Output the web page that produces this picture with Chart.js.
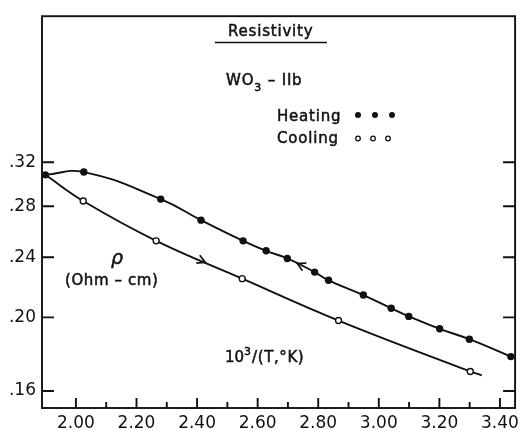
<!DOCTYPE html>
<html>
<head>
<meta charset="utf-8">
<script src="https://cdn.jsdelivr.net/npm/chart.js@4.4.1/dist/chart.umd.min.js"></script>
<style>
  html, body { margin: 0; padding: 0; background: #fff; }
  canvas { display: block; }
</style>
</head>
<body>
<canvas id="rho" width="524" height="430"></canvas>
<script>
// WO3 - IIb resistivity vs 10^3/T, heating and cooling runs
const heatX = [1.899, 2.026, 2.280, 2.413, 2.552, 2.628, 2.698, 2.788, 2.834, 2.949, 3.041, 3.099, 3.201, 3.299, 3.436];
const heatY = [0.308, 0.3106, 0.2862, 0.2685, 0.2522, 0.2447, 0.2391, 0.2294, 0.2238, 0.2140, 0.2056, 0.2006, 0.1932, 0.1872, 0.1776];

const coolX = [1.899, 2.024, 2.265, 2.549, 2.867, 3.302, 3.340];
const coolY = [0.308, 0.2845, 0.2522, 0.2249, 0.1981, 0.1698, 0.1678];
// first point is shared with heating, last is just where the trace stops
const coolMarked = [false, true, true, true, true, true, false];

const xMajorTicks = [2.0, 2.2, 2.4, 2.6, 2.8, 3.0, 3.2, 3.4];
const xMinorTicks = [2.1, 2.3, 2.5, 2.7, 2.9, 3.1, 3.3];
const yTicks = [0.16, 0.20, 0.24, 0.28, 0.32];

// direction arrows on the curves
const coolArrowX = 2.427;
const heatArrowX = 2.731;

const INK = '#111';
const FONT = '"DejaVu Sans", "Liberation Sans", sans-serif';

function pts(xs, ys){ return xs.map((x,i)=>({x:x, y:ys[i]})); }

// lettering: slightly spaced and with a thin outline for weight
function text(ctx, s, x, y, size, opts){
  opts = opts || {};
  ctx.font = (opts.style||'') + ' ' + size + 'px ' + FONT;
  if('letterSpacing' in ctx) ctx.letterSpacing = (opts.ls!=null?opts.ls:0.8) + 'px';
  ctx.fillText(s, x, y);
  ctx.lineWidth = 0.5;
  ctx.strokeText(s, x, y);
  const w = ctx.measureText(s).width;
  if('letterSpacing' in ctx) ctx.letterSpacing = '0px';
  return w;
}

function arrowHead(ctx, x, y, dx, dy){
  const len = Math.hypot(dx,dy); const ux = dx/len, uy = dy/len;
  const s = 9, a = 0.5;
  ctx.beginPath();
  ctx.moveTo(x - s*(ux*Math.cos(a) - uy*Math.sin(a)), y - s*(uy*Math.cos(a) + ux*Math.sin(a)));
  ctx.lineTo(x, y);
  ctx.lineTo(x - s*(ux*Math.cos(a) + uy*Math.sin(a)), y - s*(uy*Math.cos(a) - ux*Math.sin(a)));
  ctx.stroke();
}

// pixel point on a series at value x, straight between neighbouring points
function onSeries(xs, ys, xv, sx, sy){
  let i = 0;
  while(i < xs.length-2 && xs[i+1] < xv) i++;
  const x0 = sx.getPixelForValue(xs[i]), y0 = sy.getPixelForValue(ys[i]);
  const x1 = sx.getPixelForValue(xs[i+1]), y1 = sy.getPixelForValue(ys[i+1]);
  const px = sx.getPixelForValue(xv);
  const t = (px-x0)/(x1-x0);
  return {x:px, y:y0 + t*(y1-y0), dx:x1-x0, dy:y1-y0};
}

const frame = {
  id: 'frame',
  afterDraw(chart){
    const ctx = chart.ctx, a = chart.chartArea;
    const sx = chart.scales.x, sy = chart.scales.y;
    ctx.save();
    ctx.strokeStyle = INK; ctx.fillStyle = INK;
    ctx.lineWidth = 1.9;
    ctx.strokeRect(a.left, a.top, a.right-a.left, a.bottom-a.top);

    // inward ticks
    ctx.beginPath();
    xMajorTicks.forEach(v=>{ const p = sx.getPixelForValue(v); ctx.moveTo(p, a.bottom); ctx.lineTo(p, a.bottom-10); });
    xMinorTicks.forEach(v=>{ const p = sx.getPixelForValue(v); ctx.moveTo(p, a.bottom); ctx.lineTo(p, a.bottom-6); });
    yTicks.forEach(v=>{
      const p = sy.getPixelForValue(v);
      ctx.moveTo(a.left, p); ctx.lineTo(a.left+12, p);
      ctx.moveTo(a.right, p); ctx.lineTo(a.right-12, p);
    });
    ctx.stroke();

    // run direction arrows
    ctx.lineWidth = 1.7;
    const c = onSeries(coolX, coolY, coolArrowX, sx, sy);
    arrowHead(ctx, c.x, c.y, c.dx, c.dy);
    const h = onSeries(heatX, heatY, heatArrowX, sx, sy);
    arrowHead(ctx, h.x, h.y, -h.dx, -h.dy);

    // heading and labels
    ctx.textBaseline = 'alphabetic';
    ctx.textAlign = 'left';
    text(ctx, 'Resistivity', 228, 35.5, 15);
    ctx.lineWidth = 1.6;
    ctx.beginPath(); ctx.moveTo(215, 42.5); ctx.lineTo(327, 42.5); ctx.stroke();

    let x = 226;
    x += text(ctx, 'WO', x, 85, 15);
    x += text(ctx, '3', x, 90.5, 11, {ls:0});
    text(ctx, ' \u2013 IIb', x + 1, 85, 15);

    text(ctx, 'Heating', 277, 120.5, 15);
    text(ctx, 'Cooling', 277, 142.5, 15);
    [358, 375, 392].forEach(px=>{ ctx.beginPath(); ctx.arc(px, 115, 3, 0, Math.PI*2); ctx.fill(); });
    ctx.lineWidth = 1.3;
    [358, 373, 388].forEach(px=>{ ctx.beginPath(); ctx.arc(px, 138.5, 2.3, 0, Math.PI*2); ctx.stroke(); });

    text(ctx, '\u03C1', 111, 264, 19, {style:'italic', ls:0});
    text(ctx, '(Ohm \u2013 cm)', 65, 285, 15, {ls:0.6});

    x = 225;
    x += text(ctx, '10', x, 361.5, 15, {ls:0});
    x += text(ctx, '3', x, 355, 11, {ls:0});
    text(ctx, '/(T,\u00B0K)', x + 1, 361.5, 15, {ls:0.6});
    ctx.restore();
  }
};

new Chart(document.getElementById('rho'), {
  type: 'scatter',
  data: {
    datasets: [
      {
        label: 'Heating',
        data: pts(heatX, heatY),
        showLine: true,
        tension: 0.45,
        borderColor: INK,
        borderWidth: 1.9,
        pointRadius: 3.7,
        pointBackgroundColor: INK,
        pointBorderWidth: 0
      },
      {
        label: 'Cooling',
        data: pts(coolX, coolY),
        showLine: true,
        tension: 0.4,
        borderColor: INK,
        borderWidth: 1.9,
        pointRadius: coolMarked.map(m => m ? 3 : 0),
        pointBackgroundColor: '#fff',
        pointBorderColor: INK,
        pointBorderWidth: 1.4
      }
    ]
  },
  options: {
    responsive: false,
    animation: false,
    layout: { padding: { top: 10, right: 3, left: 0, bottom: 0 } },
    plugins: { legend: { display: false }, tooltip: { enabled: false } },
    scales: {
      x: {
        type: 'linear',
        min: 1.888,
        max: 3.45,
        afterBuildTicks: s => { s.ticks = xMajorTicks.map(v => ({value: v})); },
        afterFit: s => { s.height = 22; },
        grid: { display: false, drawTicks: false },
        border: { display: false },
        ticks: {
          autoSkip: false, maxRotation: 0, padding: 5,
          color: INK, font: { family: FONT, size: 17 },
          callback: v => v.toFixed(2)
        }
      },
      y: {
        type: 'logarithmic',
        min: 0.152,
        max: 0.498,
        afterBuildTicks: s => { s.ticks = yTicks.map(v => ({value: v})); },
        afterFit: s => { s.width = 42; },
        grid: { display: false, drawTicks: false },
        border: { display: false },
        ticks: {
          autoSkip: false, padding: 6,
          color: INK, font: { family: FONT, size: 17 },
          callback: v => '.' + Math.round(v * 100)
        }
      }
    }
  },
  plugins: [frame]
});
</script>
</body>
</html>
